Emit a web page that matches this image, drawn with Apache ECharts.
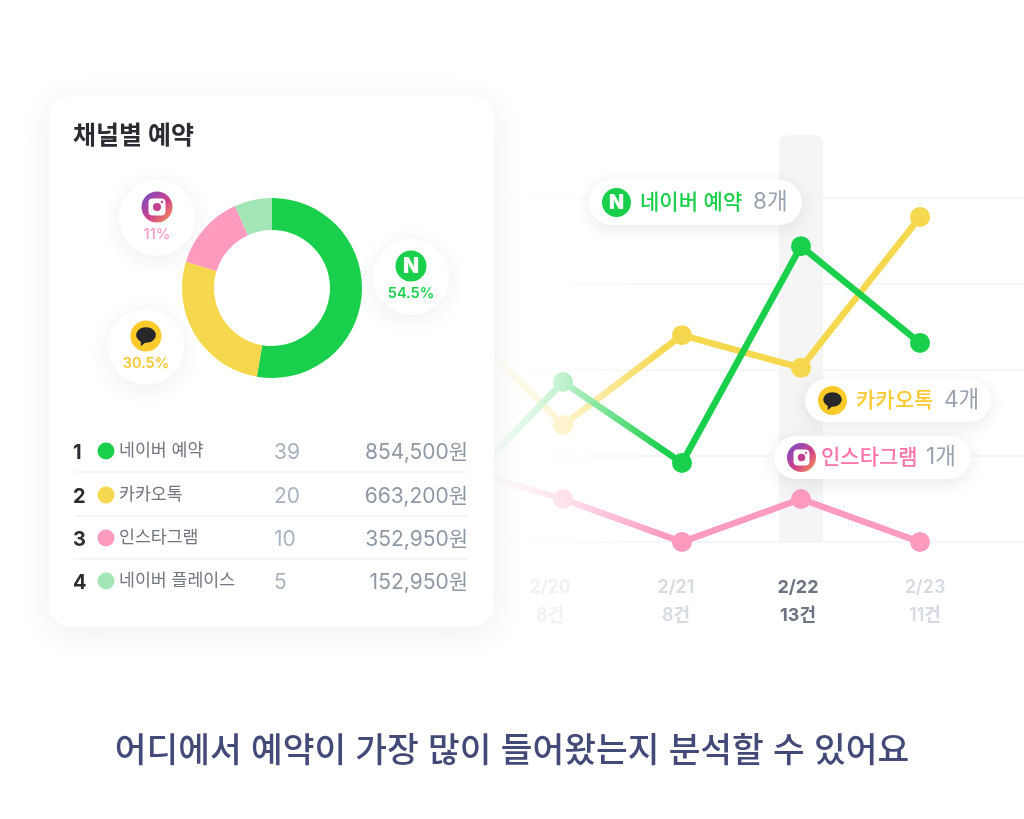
<!DOCTYPE html>
<html>
<head>
<meta charset="utf-8">
<style>
  html, body { margin: 0; padding: 0; background: #fff; }
  #container { width: 1024px; height: 819px; }
</style>
<script src="https://cdn.jsdelivr.net/npm/echarts@6/dist/echarts.min.js"></script>
</head>
<body>
<div id="container"></div>
<script>
var days = ["2/19", "2/20", "2/21", "2/22", "2/23", ""];
var dayTotals = ["", "8건", "8건", "13건", "11건", ""];
var dayStyles = ["faint", "faint", "soft", "strong", "softRight", "faint"];

var naverLine = [0.86, 3.72, 1.84, 6.88, 4.63, null];
var kakaoLine = [5.5, 2.72, 4.81, 4.05, 7.56, null];
var instaLine = [1.8, 1, 0, 1, 0, null];
var bandHeight = [null, null, null, 9.46, null, null];

var channels = ["네이버 예약", "카카오톡", "인스타그램", "네이버 플레이스"];
var counts = [39, 20, 10, 5];
var amounts = ["854,500원", "663,200원", "352,950원", "152,950원"];
var channelColors = ["#19cf4b", "#f6d84e", "#ff9abf", "#a3e6b5"];

var FONT = "Inter, 'Noto Sans CJK KR', sans-serif";
var dom = document.getElementById("container");
var myChart = echarts.init(dom, null, { renderer: "canvas" });

function txt(x, y, text, size, color, weight, align, z) {
  return {
    type: "text", x: x, y: y, z: z || 12,
    style: {
      text: text, fontFamily: FONT, fontSize: size, fill: color,
      fontWeight: weight || 400, textAlign: align || "left", textVerticalAlign: "middle",
    },
  };
}
function circle(x, y, r, fill, z, extra) {
  return {
    type: "circle", z: z || 12, shape: { cx: x, cy: y, r: r },
    style: Object.assign({ fill: fill }, extra || {}),
  };
}
function softShadow(blur, alpha) {
  return { shadowBlur: blur, shadowColor: "rgba(30,40,70," + alpha + ")", shadowOffsetY: 4 };
}
function naverIcon(x, y, r, z) {
  return [
    circle(x, y, r, "#19cf4b", z),
    txt(x, y + 0.5, "N", r * 1.35, "#fff", 900, "center", z + 1),
  ];
}
function kakaoIcon(x, y, r, z) {
  var k = r / 15;
  return [
    circle(x, y, r, "#fccb2a", z),
    {
      type: "ellipse", z: z + 1,
      shape: { cx: x, cy: y - 1 * k, rx: 9.5 * k, ry: 7.5 * k },
      style: { fill: "#26262b" },
    },
    {
      type: "polygon", z: z + 1,
      shape: { points: [[x - 5 * k, y + 3 * k], [x - 5 * k, y + 10 * k], [x + 1 * k, y + 5 * k]] },
      style: { fill: "#26262b" },
    },
  ];
}
function instaIcon(x, y, r, z) {
  var s = r * 1.1;
  return [
    circle(x, y, r, new echarts.graphic.LinearGradient(0, 0, 1, 1, [
      { offset: 0, color: "#6d4fc9" },
      { offset: 0.55, color: "#cf3f8c" },
      { offset: 1, color: "#fb9f4a" },
    ]), z),
    {
      type: "rect", z: z + 1,
      shape: { x: x - s / 2, y: y - s / 2, width: s, height: s, r: 4 },
      style: { fill: "#fff" },
    },
    circle(x, y, r * 0.26, "#c2408f", z + 2),
    circle(x + r * 0.32, y - r * 0.32, r * 0.08, "#c2408f", z + 2),
  ];
}
function bubble(x, y, iconFn, label, color) {
  return [
    circle(x, y, 38, "#fff", 11, softShadow(24, 0.08)),
  ].concat(iconFn(x, y - 11, 15.5, 12), [
    txt(x, y + 17, label, 14.5, color, 600, "center", 12),
  ]);
}
function pill(x, y, w, h, iconFn, label, color, textX, value, valueX) {
  return [
    {
      type: "rect", z: 30,
      shape: { x: x, y: y, width: w, height: h, r: h / 2 },
      style: Object.assign({ fill: "#fff" }, softShadow(18, 0.1)),
    },
  ].concat(iconFn(x + 27.5, y + h / 2, 14.5, 31), [
    txt(textX, y + h / 2, label, 21, color, 500, "left", 31),
    txt(valueX, y + h / 2, value, 22.5, "#9aa2ad", 400, "left", 31),
  ]);
}

var card = [
  {
    type: "rect", z: 10,
    shape: { x: 49, y: 96, width: 445, height: 531, r: 22 },
    style: { fill: "#fff", shadowBlur: 36, shadowColor: "rgba(30,40,70,0.08)", shadowOffsetY: 6 },
  },
  txt(73, 136, "채널별 예약", 25, "#2a2c32", 700, "left", 12),
];
var rowY = [451, 495, 538, 581];
channels.forEach(function (name, i) {
  card.push(
    txt(73, rowY[i] + 2, String(i + 1), 20, "#2a2c32", 700, "left", 12),
    circle(106, rowY[i], 8.5, channelColors[i], 12),
    txt(119, rowY[i], name, 17.3, "#70757e", 400, "left", 12),
    txt(274, rowY[i] + 2, String(counts[i]), 21, "#a9b2be", 400, "left", 12),
    txt(468, rowY[i] + 2, amounts[i], 21, "#8f98a4", 400, "right", 12)
  );
  if (i < channels.length - 1) {
    card.push({
      type: "line", z: 12,
      shape: { x1: 74, y1: rowY[i] + 21, x2: 468, y2: rowY[i] + 21 },
      style: { stroke: "#f0f3f7", lineWidth: 1.5 },
    });
  }
});

var fade = {
  type: "rect", z: 5,
  shape: { x: 440, y: 100, width: 225, height: 460 },
  style: {
    fill: new echarts.graphic.LinearGradient(0, 0, 1, 0, [
      { offset: 0, color: "rgba(255,255,255,1)" },
      { offset: 0.24, color: "rgba(255,255,255,0.98)" },
      { offset: 0.55, color: "rgba(255,255,255,0.72)" },
      { offset: 1, color: "rgba(255,255,255,0)" },
    ]),
  },
};

var graphics = [fade].concat(
  card,
  bubble(157, 218, instaIcon, "11%", "#ffa3c6"),
  bubble(146, 347, kakaoIcon, "30.5%", "#fcc92e"),
  bubble(411, 277, naverIcon, "54.5%", "#19cf4b"),
  pill(589, 180, 213, 45, naverIcon, "네이버 예약", "#19cf4b", 640, "8개", 753),
  pill(805, 379, 186, 43, kakaoIcon, "카카오톡", "#fcc92e", 856, "4개", 944),
  pill(774, 436, 197, 43, instaIcon, "인스타그램", "#ff74ab", 821, "1개", 926)
);

function lineSeries(name, data, color) {
  return {
    name: name, type: "line", data: data, z: 3,
    symbol: "circle", symbolSize: 20, showSymbol: true,
    lineStyle: { color: color, width: 6.5 },
    itemStyle: { color: color },
    connectNulls: false, silent: true,
  };
}

// highlighted day column, a custom series so it sits on the category axis
function renderBand(params, api) {
  var top = api.coord([api.value(0), api.value(1)]);
  var bottom = api.coord([api.value(0), 0]);
  return {
    type: "rect",
    shape: { x: top[0] - 22, y: top[1], width: 44, height: bottom[1] - top[1], r: [7, 7, 0, 0] },
    style: { fill: "#f5f5f6" },
  };
}

function labelStyle(color, weight, padding) {
  return { fontFamily: FONT, fontSize: 18, fontWeight: weight, lineHeight: 28.5, color: color, padding: padding };
}

var option = {
  animation: false,
  backgroundColor: "#fff",
  title: {
    text: "어디에서 예약이 가장 많이 들어왔는지 분석할 수 있어요",
    left: "center", top: 729,
    textStyle: { fontFamily: FONT, fontSize: 34.5, fontWeight: 500, color: "#434a78" },
  },
  // the grid runs past the right edge on purpose, the gridlines bleed off the page
  grid: { left: 444, top: 112, width: 595, height: 430, outerBoundsMode: "none" },
  xAxis: {
    type: "category", data: days, boundaryGap: false,
    axisLine: { show: false }, axisTick: { show: false },
    axisLabel: {
      interval: 0, margin: 31, fontFamily: FONT,
      formatter: function (value, i) {
        var s = dayStyles[i];
        return "{" + s + "|" + value + "}\n{" + s + "|" + dayTotals[i] + "}";
      },
      // the day labels sit a little off their points in the original
      rich: {
        faint: labelStyle("#eff1f4", 600, [0, 26, 0, 0]),
        soft: labelStyle("#d5d9e1", 600, [0, 12, 0, 0]),
        softRight: labelStyle("#d5d9e1", 600, [0, 0, 0, 10]),
        strong: labelStyle("#6b7280", 700, [0, 6, 0, 0]),
      },
    },
  },
  yAxis: {
    type: "value", min: 0, max: 10, interval: 2,
    axisLine: { show: false }, axisTick: { show: false }, axisLabel: { show: false },
    splitLine: { show: true, showMaxLine: false, lineStyle: { color: "#f0f3f7", width: 1.5 } },
  },
  series: [
    {
      type: "custom", z: 1, silent: true, renderItem: renderBand,
      encode: { x: 0, y: 1 },
      data: bandHeight.map(function (v, i) { return [i, v]; }).filter(function (d) { return d[1] !== null; }),
    },
    lineSeries("인스타그램", instaLine, "#ff9abf"),
    lineSeries("카카오톡", kakaoLine, "#f6d84e"),
    lineSeries("네이버 예약", naverLine, "#19cf4b"),
    {
      type: "pie", center: [272, 288], radius: [58, 90], z: 20,
      startAngle: 90, clockwise: true, silent: true,
      label: { show: false }, labelLine: { show: false },
      data: channels.map(function (name, i) {
        return { name: name, value: counts[i], itemStyle: { color: channelColors[i] } };
      }),
    },
  ],
  graphic: graphics,
};

if (option && typeof option === "object") {
  myChart.setOption(option);
}

window.addEventListener("resize", myChart.resize);
</script>
</body>
</html>
